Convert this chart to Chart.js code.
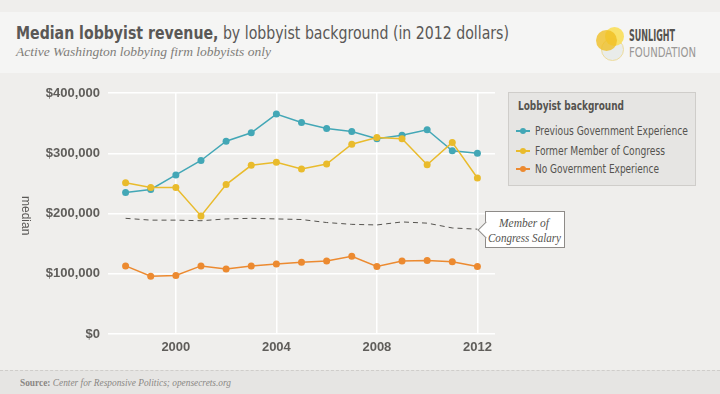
<!DOCTYPE html>
<html>
<head>
<meta charset="utf-8">
<title>Median lobbyist revenue</title>
<script src="https://cdn.jsdelivr.net/npm/chart.js@4.4.1/dist/chart.umd.min.js"></script>
<style>
  html, body { margin: 0; padding: 0; }
  body {
    width: 720px; height: 394px; position: relative; overflow: hidden;
    background: #efeeec;
    font-family: "DejaVu Sans Condensed", "Liberation Sans", sans-serif;
    color: #5a5856;
  }
  .fit { display: inline-block; white-space: nowrap; transform-origin: 0 50%; }
  #header { position: absolute; left: 0; top: 12px; width: 720px; height: 61px; background: #f5f5f4; }
  #title { position: absolute; left: 16px; top: 13px; font-size: 17px; line-height: 1; }
  #subtitle {
    position: absolute; left: 16px; top: 33px; font-size: 12.5px; color: #807d79;
    font-family: "Liberation Serif", "DejaVu Serif", serif; font-style: italic;
  }
  .circ { position: absolute; border-radius: 50%; }
  #logoText1 { position: absolute; left: 629px; top: 17px; font-size: 15px; font-weight: bold; color: #55534f; line-height: 1; }
  #logoText2 { position: absolute; left: 629px; top: 33px; font-size: 14px; color: #9a9896; line-height: 1; }
  #chartWrap { position: absolute; left: 0; top: 0; width: 720px; height: 394px; }
  #yTitle {
    position: absolute; left: 19px; top: 196px; writing-mode: vertical-rl;
    font-size: 12px; color: #5a5856; font-family: "Liberation Sans", sans-serif;
  }
  #legend {
    position: absolute; left: 508px; top: 92px; width: 188px; height: 94px;
    background: #e6e5e3; border: 1px solid #cfcdca; box-sizing: border-box;
  }
  #legend .ttl { position: absolute; left: 9px; top: 1px; font-size: 12.5px; font-weight: bold; color: #55534f; line-height: 24px; }
  #legend .item { position: absolute; left: 7px; height: 14px; font-size: 12px; color: #55534f; white-space: nowrap; line-height: 14px; }
  #legend .mk { position: absolute; left: 0; top: 3px; width: 14px; height: 8px; }
  #legend .mk i { position: absolute; left: 0; top: 3px; width: 14px; height: 1.5px; }
  #legend .mk s { position: absolute; left: 4px; top: 1px; width: 6px; height: 6px; border-radius: 50%; }
  #legend .txt { position: absolute; left: 19px; top: 0; }
  #note {
    position: absolute; left: 485px; top: 211px; width: 80px; height: 37px; box-sizing: border-box;
    background: #fff; border: 1px solid #8e8b88;
    font-family: "Liberation Serif", "DejaVu Serif", serif; font-style: italic; font-size: 11.5px;
    color: #55534f;
  }
  #note .ptr {
    position: absolute; left: -6px; top: 12px; width: 11px; height: 11px; background: #fff;
    border-left: 1px solid #8e8b88; border-bottom: 1px solid #8e8b88; transform: rotate(45deg);
  }
  #note .ln { position: absolute; line-height: 14px; }
  #footer {
    position: absolute; left: 0; top: 370px; width: 720px; height: 24px; background: #e6e5e3;
    border-top: 1px dashed #cfcdca;
  }
  #source {
    position: absolute; left: 20px; top: 6px; font-size: 10px; color: #8a8784; line-height: 12px;
    font-family: "Liberation Serif", "DejaVu Serif", serif; font-style: italic;
  }
  #source b { font-style: normal; }
</style>
</head>
<body>
<div id="header">
  <div id="title" class="fit"><b>Median lobbyist revenue,</b> by lobbyist background (in 2012 dollars)</div>
  <div id="subtitle" class="fit">Active Washington lobbying firm lobbyists only</div>
  <div class="circ" style="left:601px;top:26px;width:21px;height:21px;background:#e9ecea;border:1px solid #eedc9c;"></div>
  <div class="circ" style="left:605px;top:15px;width:19px;height:19px;background:rgba(248,222,92,0.92);"></div>
  <div class="circ" style="left:596px;top:18px;width:21px;height:21px;background:rgba(240,190,32,0.78);"></div>
  <div id="logoText1" class="fit">SUNLIGHT</div>
  <div id="logoText2" class="fit">FOUNDATION</div>
</div>

<div id="chartWrap"><canvas id="lobbyChart"></canvas></div>
<div id="yTitle">median</div>

<div id="legend">
  <div class="ttl fit" id="legTitle">Lobbyist background</div>
  <div class="item" style="top:31px;"><span class="mk"><i style="background:#43a7b6"></i><s style="background:#43a7b6"></s></span><span class="txt fit" id="leg1">Previous Government Experience</span></div>
  <div class="item" style="top:51px;"><span class="mk"><i style="background:#e9bb2c"></i><s style="background:#e9bb2c"></s></span><span class="txt fit" id="leg2">Former Member of Congress</span></div>
  <div class="item" style="top:69px;"><span class="mk"><i style="background:#ec8a30"></i><s style="background:#ec8a30"></s></span><span class="txt fit" id="leg3">No Government Experience</span></div>
</div>

<div id="note"><div class="ptr"></div>
  <span class="ln fit" id="note1" style="left:13px;top:4px;">Member of</span>
  <span class="ln fit" id="note2" style="left:2px;top:19px;">Congress Salary</span>
</div>

<div id="footer">
  <div id="source" class="fit"><b>Source:</b> Center for Responsive Politics; opensecrets.org</div>
</div>

<script>
"use strict";

var years = [1998, 1999, 2000, 2001, 2002, 2003, 2004, 2005, 2006, 2007, 2008, 2009, 2010, 2011, 2012];
var prevGovernment = [235000, 240000, 264000, 288000, 320000, 334000, 365000, 351000, 341000, 336000, 324000, 330000, 339000, 304000, 300000];
var formerMember = [251000, 243000, 243000, 196000, 248000, 280000, 285000, 274000, 282000, 315000, 326000, 324000, 281000, 318000, 259000];
var noGovernment = [113000, 96000, 97000, 113000, 108000, 113000, 116000, 119000, 121000, 129000, 112000, 121000, 122000, 120000, 112000];
var congressSalary = [192000, 189000, 189000, 188000, 191000, 192000, 191000, 190000, 185000, 182000, 181000, 186000, 184000, 176000, 174000];
var xTicks = [2000, 2004, 2008, 2012];

var COLORS = {
  'prev': '#43a7b6',
  'former': '#e9bb2c',
  'none': '#ec8a30',
  'salary': '#55534f'
};

// squeeze a text element horizontally to the width it has in the original
var fitText = function (id, width) {
  var el = document.getElementById(id);
  var w = el.getBoundingClientRect().width;
  el.style.transform = 'scaleX(' + (width / w) + ')';
};

var toPoints = function (values) {
  var pts = [];
  for (let i = 0; i < years.length; i++) {
    pts.push({ x: years[i], y: values[i] });
  }
  return pts;
};

var seriesStyle = function (label, values, color) {
  return {
    label: label,
    data: toPoints(values),
    borderColor: color,
    backgroundColor: color,
    borderWidth: 1.5,
    pointRadius: 3.5,
    pointBorderWidth: 0,
    tension: 0
  };
};

var load_lobby_chart = function () {
  var ctx = document.getElementById('lobbyChart').getContext('2d');
  var salary = {
    label: 'Member of Congress Salary',
    data: toPoints(congressSalary),
    borderColor: COLORS.salary,
    borderWidth: 1,
    borderDash: [5, 4],
    pointRadius: 0,
    tension: 0
  };

  var config = {
    type: 'line',
    data: {
      datasets: [
        salary,
        seriesStyle('No Government Experience', noGovernment, COLORS.none),
        seriesStyle('Former Member of Congress', formerMember, COLORS.former),
        seriesStyle('Previous Government Experience', prevGovernment, COLORS.prev)
      ]
    },
    options: {
      responsive: true,
      maintainAspectRatio: false,
      animation: false,
      layout: { padding: { top: 93, right: 225, bottom: 0, left: 0 } },
      plugins: {
        legend: { display: false },
        tooltip: { enabled: false }
      },
      scales: {
        x: {
          type: 'linear',
          min: 1997.3,
          max: 2012.7,
          afterBuildTicks: function (scale) {
            scale.ticks = xTicks.map(function (v) { return { value: v }; });
          },
          afterFit: function (scale) { scale.height = 60; },
          grid: { color: '#ffffff', lineWidth: 1.5, drawTicks: false },
          border: { display: false },
          ticks: {
            padding: 6,
            color: '#5f5d5a',
            font: { family: 'Liberation Sans', size: 13, weight: 'bold' },
            callback: function (v) { return String(v); }
          }
        },
        y: {
          min: 0,
          max: 400000,
          afterFit: function (scale) { scale.width = 108; },
          grid: { color: '#ffffff', lineWidth: 1.5, drawTicks: false },
          border: { display: false },
          ticks: {
            stepSize: 100000,
            padding: 8,
            color: '#5f5d5a',
            font: { family: 'Liberation Sans', size: 13, weight: 'bold' },
            callback: function (v) { return '$' + v.toLocaleString('en-US'); }
          }
        }
      }
    }
  };
  return new Chart(ctx, config);
};

fitText('title', 493);
fitText('subtitle', 255);
fitText('logoText1', 46);
fitText('logoText2', 67);
fitText('legTitle', 106);
fitText('leg1', 153);
fitText('leg2', 130);
fitText('leg3', 124);
fitText('note1', 50);
fitText('note2', 73);
fitText('source', 211);

var lobbyChart = load_lobby_chart();
</script>
</body>
</html>
